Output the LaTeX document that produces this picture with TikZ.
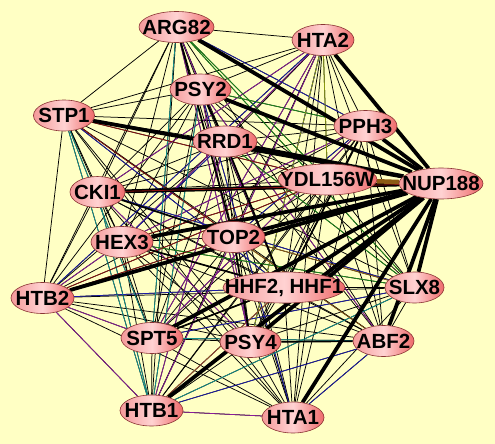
\documentclass[tikz,border=0pt]{standalone}
\usepackage{fontspec}
\setmainfont{Liberation Sans}
\usetikzlibrary{shapes.geometric}
\definecolor{paper}{HTML}{FFFFC4}
\definecolor{geneL}{HTML}{F49A9A}
\definecolor{geneM}{HTML}{FFD2D2}
\definecolor{geneR}{HTML}{EE6A6A}
\definecolor{geneline}{HTML}{8A3434}
\definecolor{lpurple}{HTML}{8A1A9A}
\definecolor{lblue}{HTML}{1A1AA8}
\definecolor{lteal}{HTML}{10908C}
\definecolor{lgreen}{HTML}{1A8A1A}
\definecolor{lred}{HTML}{8A1010}
\definecolor{lolive}{HTML}{8A9A10}
\definecolor{lbrown}{HTML}{8C5A14}
\pgfdeclarelayer{background}
\pgfsetlayers{background,main}

\begin{document}
\begin{tikzpicture}[
  x=1pt, y=-1pt,
  gene/.style={ellipse, draw=geneline, line width=0.6pt,
    left color=geneL, right color=geneR, middle color=geneM,
    minimum height=31pt, inner sep=-30pt,
    font=\fontsize{20.5}{20.5}\selectfont\bfseries},
  link/.style={line width=0.75pt, black},
  mid/.style={line width=1.7pt, black},
  heavy/.style={line width=3.8pt, black},
  tint/.style={line width=0.75pt}
]
\useasboundingbox (0,0) rectangle (495,444);

% genes, placed as in the layout
\node[gene, minimum width=75pt] (arg82) at (176.5,27) {ARG82};
\node[gene, minimum width=62pt] (hta2) at (323,40) {HTA2};
\node[gene, minimum width=61pt] (psy2) at (200.5,89.5) {PSY2};
\node[gene, minimum width=61pt] (stp1) at (64,115.5) {STP1};
\node[gene, minimum width=63pt] (pph3) at (365.5,126) {PPH3};
\node[gene, minimum width=64pt] (rrd1) at (225,141.5) {RRD1};
\node[gene, minimum width=99pt] (ydl) at (327.5,179.5) {YDL156W};
\node[gene, minimum width=84pt] (nup) at (441,183.5) {NUP188};
\node[gene, minimum width=55pt] (cki1) at (97.5,192) {CKI1};
\node[gene, minimum width=62pt] (hex3) at (122,242) {HEX3};
\node[gene, minimum width=63pt] (top2) at (233.5,237) {TOP2};
\node[gene, minimum width=63pt] (htb2) at (42.5,298) {HTB2};
\node[gene, minimum width=122pt] (hhf) at (284,287.5) {HHF2, HHF1};
\node[gene, minimum width=59pt] (slx8) at (414.5,287.5) {SLX8};
\node[gene, minimum width=62pt] (spt5) at (152,338) {SPT5};
\node[gene, minimum width=61pt] (psy4) at (250.5,342) {PSY4};
\node[gene, minimum width=61pt] (abf2) at (383.5,341) {ABF2};
\node[gene, minimum width=63pt] (htb1) at (151.5,410.5) {HTB1};
\node[gene, minimum width=62pt] (hta1) at (293,417.5) {HTA1};

\begin{pgfonlayer}{background}
\fill[paper] (0,0) rectangle (495,444);
% every pair is linked
\foreach \a [count=\i] in {arg82,hta2,psy2,stp1,pph3,rrd1,ydl,cki1,hex3,top2,htb2,hhf,slx8,spt5,psy4,abf2,htb1,hta1}
  \foreach \b [count=\j] in {arg82,hta2,psy2,stp1,pph3,rrd1,ydl,cki1,hex3,top2,htb2,hhf,slx8,spt5,psy4,abf2,htb1,hta1}
    {\ifnum\j>\i \draw[link] (\a) -- (\b);\fi}
% coloured evidence
\foreach \a/\b in {hta2/hex3,hta2/cki1,hta2/spt5,psy2/psy4,arg82/hhf,htb2/htb1,
    htb1/hta1,htb2/spt5,rrd1/htb1,top2/htb1,psy2/abf2,arg82/psy4,hhf/htb1,
    hta2/top2,pph3/hex3,htb2/hex3,pph3/spt5,cki1/psy4}
  \draw[tint, lpurple] (\a) -- (\b);
\foreach \a/\b in {hta2/htb2,rrd1/hex3,psy2/hta1,arg82/pph3,htb1/abf2,
    htb2/hhf,cki1/slx8,spt5/slx8,hta1/abf2,hta2/psy4,pph3/top2,stp1/hhf}
  \draw[tint, lblue] (\a) -- (\b);
\foreach \a/\b in {stp1/spt5,stp1/htb1,arg82/spt5,psy2/htb1,spt5/abf2,htb1/slx8,cki1/htb1}
  \draw[tint, lteal] (\a) -- (\b);
\foreach \a/\b in {arg82/ydl,hex3/slx8,arg82/slx8,psy2/pph3,rrd1/slx8}
  \draw[tint, lgreen] (\a) -- (\b);
\foreach \a/\b in {stp1/top2,htb2/ydl,hex3/ydl,stp1/ydl,htb2/top2}
  \draw[tint, lred] (\a) -- (\b);
\foreach \a/\b in {hta2/ydl,hta2/psy4,spt5/hhf}
  \draw[tint, lolive] (\a) -- (\b);
\foreach \a/\b in {htb1/hhf,slx8/top2,abf2/top2}
  \draw[tint, lbrown] (\a) -- (\b);
% stronger links
\foreach \a/\b in {psy2/rrd1,cki1/top2,arg82/top2,pph3/hhf,spt5/hhf,
    top2/psy4,rrd1/hhf,hex3/hhf,psy4/abf2}
  \draw[mid] (\a) -- (\b);
\foreach \a in {arg82,hta2,psy2,pph3,stp1,rrd1,cki1,hex3,top2,htb2,hhf,
    slx8,spt5,psy4,abf2,htb1,hta1}
  \draw[heavy] (\a) -- (nup);
\draw[lred, line width=0.8pt] (cki1) -- (nup);
\draw[lbrown, line width=4.5pt] (ydl) -- (nup);
\end{pgfonlayer}
\end{tikzpicture}
\end{document}
